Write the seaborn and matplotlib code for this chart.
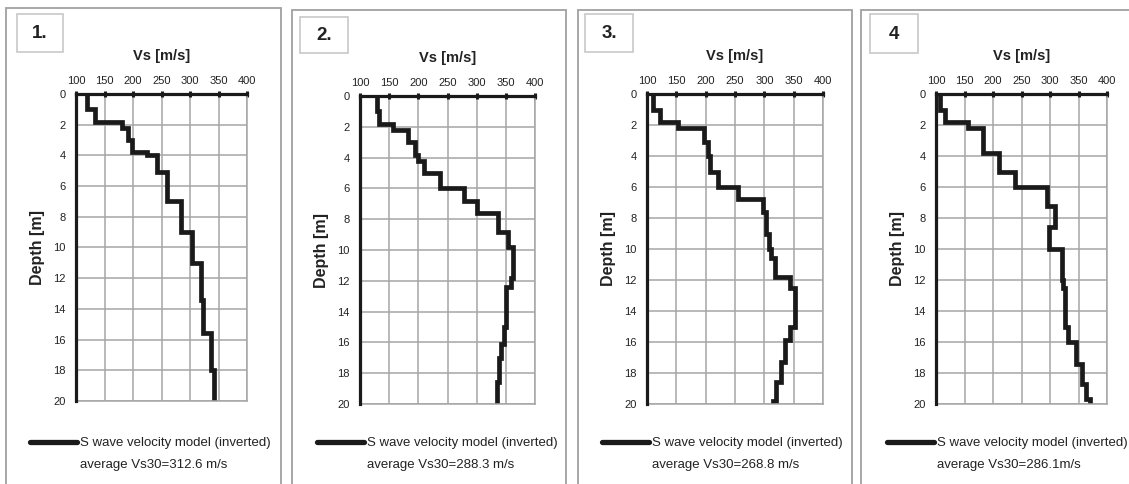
"""
S wave velocity profiles (inverted) for four sites, Vs vs depth
"""
import numpy as np
import pandas as pd
import matplotlib
matplotlib.use("Agg")
import matplotlib.pyplot as plt
from matplotlib.lines import Line2D
from matplotlib.patches import Rectangle
import seaborn as sns

# Data: layer top depths [m] and Vs [m/s] of each layer (bottom of model = 20 m)
site_labels = ["1.", "2.", "3.", "4"]
vs30_labels = ["average Vs30=312.6 m/s", "average Vs30=288.3 m/s",
               "average Vs30=268.8 m/s", "average Vs30=286.1m/s"]

tops_1 = [0, 1.0, 1.8, 2.2, 3.0, 3.8, 4.0, 5.1, 7.0, 9.0, 11.0, 13.4, 15.6, 18.0]
vs_1 = [119, 133, 181, 191, 199, 225, 242, 260, 284, 304, 320, 323, 336, 342]

tops_2 = [0, 1.0, 1.8, 2.2, 3.0, 3.8, 4.2, 5.0, 6.0, 6.8, 7.6, 8.8, 9.8, 11.8, 12.4, 15.0, 16.1, 17.0, 18.6]
vs_2 = [129, 133, 157, 183, 194, 200, 209, 237, 278, 301, 337, 354, 363, 358, 351, 347, 341, 338, 334]

tops_3 = [0, 1.0, 1.8, 2.2, 3.1, 4.0, 5.0, 6.0, 6.8, 7.6, 9.0, 10.0, 10.6, 11.8, 12.5, 15.0, 15.9, 17.3, 18.6, 19.8]
vs_3 = [110, 122, 153, 198, 204, 207, 221, 255, 298, 303, 308, 312, 319, 343, 352, 343, 335, 329, 320, 315]

tops_4 = [0, 1.0, 1.8, 2.2, 3.8, 5.0, 6.0, 7.2, 8.6, 10.0, 12.0, 12.5, 15.0, 16.0, 17.4, 18.7, 19.7]
vs_4 = [107, 116, 157, 182, 210, 239, 294, 308, 298, 321, 323, 326, 331, 346, 356, 364, 370]

max_depth = 20
x_ticks = [100, 150, 200, 250, 300, 350, 400]
y_ticks = [0, 2, 4, 6, 8, 10, 12, 14, 16, 18, 20]

W, H = 1129, 484
FONT = ["Liberation Sans", "DejaVu Sans"]
GRID = "#a6a6a6"
LINE = "#1a1a1a"
TXT = "#222222"

# pixel layout: axes box (x0, y0, x1, y1), panel frame, label box, legend left
axes_px = [(76, 94, 247, 401), (360, 96, 535, 404), (647, 94, 823, 404), (936, 94, 1107, 404)]
frame_px = [(6, 8, 281), (292, 10, 566), (578, 10, 852), (861, 10, 1140)]
label_px = [(17, 14, 63, 52), (300, 17, 348, 53), (585, 14, 633, 52), (870, 14, 918, 53)]
legend_x = [30, 317, 602, 887]


def step_profile(tops, vs, bottom):
    """Turn layer tops/velocities into a stepped depth profile"""
    d_edges = list(tops[1:]) + [bottom]
    depth = np.column_stack([tops, d_edges]).ravel()
    vel = np.repeat(vs, 2)
    return pd.DataFrame({"Vs": vel, "Depth": depth})


def fig_rect(x0, y0, x1, y1):
    return [x0 / W, 1 - y1 / H, (x1 - x0) / W, (y1 - y0) / H]


def draw_panel(fig, i, tops, vs):
    ax = fig.add_axes(fig_rect(*axes_px[i]))
    df = step_profile(tops, vs, max_depth)
    sns.lineplot(data=df, x="Vs", y="Depth", sort=False, estimator=None, ax=ax,
                 color=LINE, lw=3.4, solid_joinstyle="miter")
    ax.set_xlim(100, 400)
    ax.set_ylim(max_depth, 0)
    ax.set_xticks(x_ticks)
    ax.set_yticks(y_ticks)
    ax.xaxis.tick_top()
    ax.xaxis.set_label_position("top")
    ax.grid(True, color=GRID, lw=1.1)
    ax.set_axisbelow(True)
    for s in ["top", "left"]:
        ax.spines[s].set_color(LINE)
        ax.spines[s].set_linewidth(2.3)
        ax.spines[s].set_zorder(5)
    for s in ["right", "bottom"]:
        ax.spines[s].set_color(GRID)
        ax.spines[s].set_linewidth(1.1)
    ax.tick_params(axis="x", direction="inout", length=4, width=2.2, color=LINE,
                   labelsize=8, pad=4)
    ax.tick_params(axis="y", direction="out", length=2.5, width=2.2, color=LINE,
                   labelsize=8, pad=5)
    for lab in ax.get_xticklabels() + ax.get_yticklabels():
        lab.set_family(FONT)
        lab.set_color(TXT)
    ax.set_xlabel("Vs [m/s]", fontsize=10.5, fontweight="bold", family=FONT,
                  labelpad=11, color=TXT)
    ax.set_ylabel("Depth [m]", fontsize=11.5, fontweight="bold", family=FONT,
                  labelpad=6, color=TXT)

    # panel frame and site label box
    fx0, fy0, fx1 = frame_px[i]
    fig.add_artist(Rectangle((fx0 / W, -0.05), (fx1 - fx0) / W, 1.05 - fy0 / H,
                             transform=fig.transFigure, fill=False,
                             edgecolor="#a0a0a0", lw=1.3))
    lx0, ly0, lx1, ly1 = label_px[i]
    fig.add_artist(Rectangle((lx0 / W, 1 - ly1 / H), (lx1 - lx0) / W, (ly1 - ly0) / H,
                             transform=fig.transFigure, fill=False,
                             edgecolor="#c8c8c8", lw=1.2))
    fig.text((lx0 + lx1) / 2 / W, 1 - (ly0 + ly1 + 2) / 2 / H, site_labels[i],
             ha="center", va="center", fontsize=13.5, fontweight="bold", family=FONT,
             color=TXT)

    # legend below the plot
    handles = [Line2D([], [], color=LINE, lw=3.8), Line2D([], [], color="none")]
    labels = ["S wave velocity model (inverted)", vs30_labels[i]]
    fig.legend(handles, labels, loc="upper left",
               bbox_to_anchor=(legend_x[i] / W, 1 - 437 / H),
               frameon=False, prop={"family": FONT, "size": 9.5},
               handlelength=3.55, handletextpad=0.25, labelspacing=0.75,
               borderpad=0, borderaxespad=0, labelcolor=TXT)
    return ax


def main():
    sns.set_theme(style="white")
    plt.rcParams["font.family"] = FONT
    fig = plt.figure(figsize=(W / 100, H / 100), dpi=100)
    data = [(tops_1, vs_1), (tops_2, vs_2), (tops_3, vs_3), (tops_4, vs_4)]
    for i, (t, v) in enumerate(data):
        draw_panel(fig, i, t, v)
    fig.savefig("out.png", dpi=100, facecolor="white")


if __name__ == "__main__":
    main()
